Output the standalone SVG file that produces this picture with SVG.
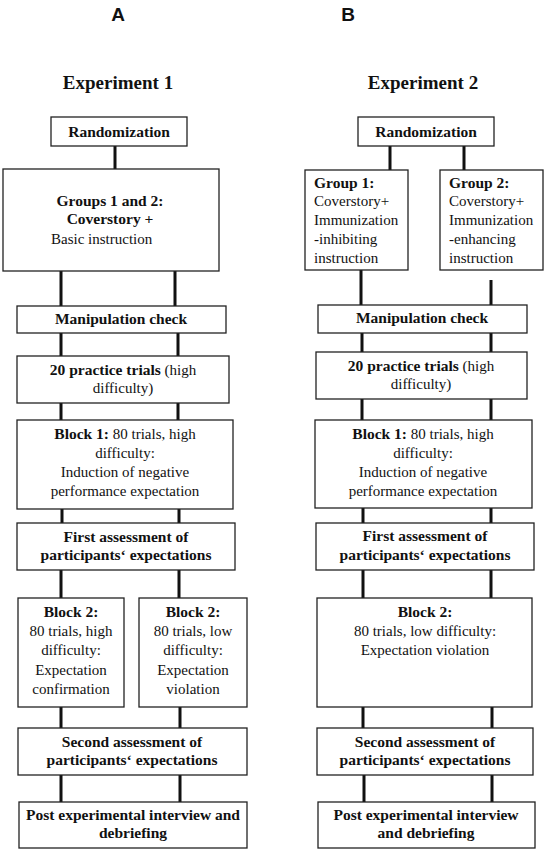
<svg xmlns="http://www.w3.org/2000/svg" width="546" height="852" viewBox="0 0 546 852" font-family="'Liberation Serif', 'Times New Roman', serif">
<style>
.box{fill:#fff;stroke:#222;stroke-width:1.3}
text{font-family:'Liberation Serif','Times New Roman',serif}
.t{font-size:15px;fill:#111}
.c{text-anchor:middle}
.b{font-weight:bold;font-size:15.5px}
.h{font-size:19px;font-weight:bold;text-anchor:middle;fill:#111}
text.p{font-family:'Liberation Sans',Arial,sans-serif;font-size:19px;font-weight:bold;text-anchor:middle;fill:#111}
.ln{stroke:#111;stroke-width:3;fill:none}
</style>
<rect width="546" height="852" fill="#fff"/>
<g id="connectors">
<path class="ln" d="M115 146V169"/>
<path class="ln" d="M61 271V306M175 271V306"/>
<path class="ln" d="M61 333V356M178 333V356"/>
<path class="ln" d="M61 403V420M178 403V420"/>
<path class="ln" d="M62 509V523M179 509V523"/>
<path class="ln" d="M61 570V598M179 570V598"/>
<path class="ln" d="M61 707V728M180 707V728"/>
<path class="ln" d="M61 775V802M180 775V802"/>
<path class="ln" d="M390 146V170M464 146V170"/>
<path class="ln" d="M361 270V305M491 280V305"/>
<path class="ln" d="M362 333V352M491 333V352"/>
<path class="ln" d="M362 399V420M491 399V420"/>
<path class="ln" d="M363 508V523M491 508V523"/>
<path class="ln" d="M363 570V598M491 570V598"/>
<path class="ln" d="M363 707V728M492 707V728"/>
<path class="ln" d="M364 775V802M492 775V802"/>
</g>
<g id="labels">
<text class="p" x="118" y="21" font-family="'Liberation Sans', Arial, sans-serif">A</text>
<text class="p" x="348" y="21" font-family="'Liberation Sans', Arial, sans-serif">B</text>
<text class="h" x="118" y="89">Experiment 1</text>
<text class="h" x="423" y="89">Experiment 2</text>
</g>
<g id="a-random">
<rect class="box" x="51" y="117" width="136" height="29"/>
<text class="t c b" x="119" y="137">Randomization</text>
</g>
<g id="a-groups">
<rect class="box" x="3" y="169" width="216" height="102"/>
<text class="t c b" x="110" y="206">Groups 1 and 2:</text>
<text class="t c b" x="110" y="224">Coverstory +</text>
<text class="t" x="51" y="244">Basic instruction</text>
</g>
<g id="a-manip">
<rect class="box" x="17" y="306" width="209" height="27"/>
<text class="t c b" x="121" y="324">Manipulation check</text>
</g>
<g id="a-practice">
<rect class="box" x="17" y="356" width="212" height="47"/>
<text class="t c" x="123" y="375"><tspan class="b">20 practice trials</tspan> (high</text>
<text class="t c" x="123" y="393">difficulty)</text>
</g>
<g id="a-block1">
<rect class="box" x="17" y="420" width="216" height="89"/>
<text class="t c" x="125" y="439"><tspan class="b">Block 1:</tspan> 80 trials, high</text>
<text class="t c" x="125" y="458">difficulty:</text>
<text class="t c" x="125" y="477">Induction of negative</text>
<text class="t c" x="125" y="496">performance expectation</text>
</g>
<g id="a-first">
<rect class="box" x="17" y="523" width="218" height="47"/>
<text class="t c b" x="126" y="542">First assessment of</text>
<text class="t c b" x="126" y="560">participants‘ expectations</text>
</g>
<g id="a-block2-high">
<rect class="box" x="18" y="598" width="106" height="109"/>
<text class="t c b" x="71" y="617">Block 2:</text>
<text class="t c" x="71" y="636">80 trials, high</text>
<text class="t c" x="71" y="655">difficulty:</text>
<text class="t c" x="71" y="675">Expectation</text>
<text class="t c" x="71" y="694">confirmation</text>
</g>
<g id="a-block2-low">
<rect class="box" x="139" y="598" width="108" height="109"/>
<text class="t c b" x="193" y="617">Block 2:</text>
<text class="t c" x="193" y="636">80 trials, low</text>
<text class="t c" x="193" y="655">difficulty:</text>
<text class="t c" x="193" y="675">Expectation</text>
<text class="t c" x="193" y="694">violation</text>
</g>
<g id="a-second">
<rect class="box" x="18" y="728" width="229" height="47"/>
<text class="t c b" x="132" y="747">Second assessment of</text>
<text class="t c b" x="132" y="765">participants‘ expectations</text>
</g>
<g id="a-post">
<rect class="box" x="19" y="802" width="228" height="46"/>
<text class="t c b" x="133" y="820">Post experimental interview and</text>
<text class="t c b" x="133" y="838">debriefing</text>
</g>
<g id="b-random">
<rect class="box" x="358" y="117" width="136" height="29"/>
<text class="t c b" x="426" y="137">Randomization</text>
</g>
<g id="b-group1">
<rect class="box" x="305" y="170" width="103" height="100"/>
<text class="t b" x="314" y="188">Group 1:</text>
<text class="t" x="314" y="206">Coverstory+</text>
<text class="t" x="314" y="225">Immunization</text>
<text class="t" x="314" y="244">-inhibiting</text>
<text class="t" x="314" y="263">instruction</text>
</g>
<g id="b-group2">
<rect class="box" x="440" y="170" width="103" height="100"/>
<text class="t b" x="449" y="188">Group 2:</text>
<text class="t" x="449" y="206">Coverstory+</text>
<text class="t" x="449" y="225">Immunization</text>
<text class="t" x="449" y="244">-enhancing</text>
<text class="t" x="449" y="263">instruction</text>
</g>
<g id="b-manip">
<rect class="box" x="318" y="305" width="209" height="28"/>
<text class="t c b" x="422" y="323">Manipulation check</text>
</g>
<g id="b-practice">
<rect class="box" x="316" y="352" width="211" height="47"/>
<text class="t c" x="421" y="371"><tspan class="b">20 practice trials</tspan> (high</text>
<text class="t c" x="421" y="389">difficulty)</text>
</g>
<g id="b-block1">
<rect class="box" x="315" y="420" width="217" height="88"/>
<text class="t c" x="423" y="439"><tspan class="b">Block 1:</tspan> 80 trials, high</text>
<text class="t c" x="423" y="458">difficulty:</text>
<text class="t c" x="423" y="477">Induction of negative</text>
<text class="t c" x="423" y="496">performance expectation</text>
</g>
<g id="b-first">
<rect class="box" x="316" y="523" width="218" height="47"/>
<text class="t c b" x="425" y="541">First assessment of</text>
<text class="t c b" x="425" y="560">participants‘ expectations</text>
</g>
<g id="b-block2">
<rect class="box" x="317" y="598" width="215" height="109"/>
<text class="t c b" x="425" y="617">Block 2:</text>
<text class="t c" x="425" y="636">80 trials, low difficulty:</text>
<text class="t c" x="425" y="655">Expectation violation</text>
</g>
<g id="b-second">
<rect class="box" x="317" y="728" width="216" height="47"/>
<text class="t c b" x="425" y="747">Second assessment of</text>
<text class="t c b" x="425" y="765">participants‘ expectations</text>
</g>
<g id="b-post">
<rect class="box" x="318" y="802" width="217" height="46"/>
<text class="t c b" x="426" y="820">Post experimental interview</text>
<text class="t c b" x="426" y="838">and debriefing</text>
</g>
</svg>
